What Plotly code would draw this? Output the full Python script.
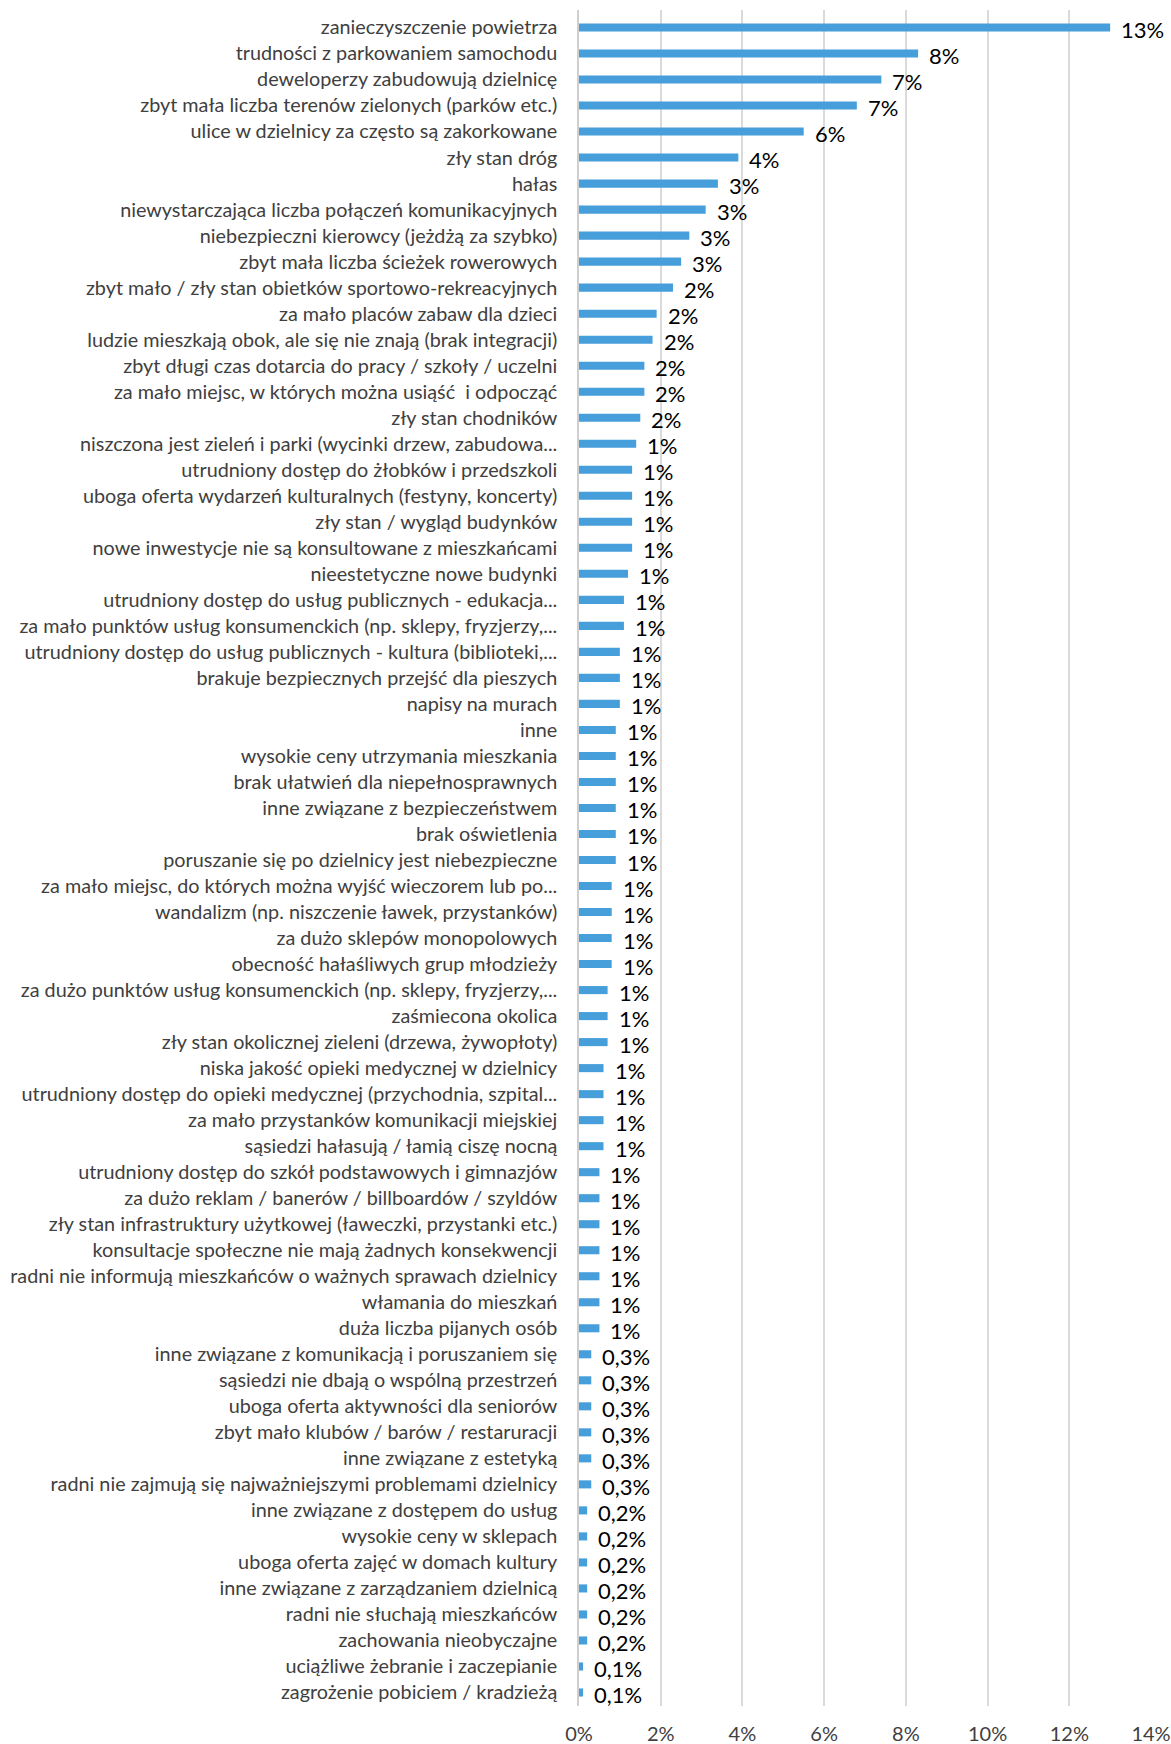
import plotly.graph_objects as go

# Problems reported by residents (share of answers, %)
categories = [
    "zanieczyszczenie powietrza",
    "trudności z parkowaniem samochodu",
    "deweloperzy zabudowują dzielnicę",
    "zbyt mała liczba terenów zielonych (parków etc.)",
    "ulice w dzielnicy za często są zakorkowane",
    "zły stan dróg",
    "hałas",
    "niewystarczająca liczba połączeń komunikacyjnych",
    "niebezpieczni kierowcy (jeżdżą za szybko)",
    "zbyt mała liczba ścieżek rowerowych",
    "zbyt mało / zły stan obietków sportowo-rekreacyjnych",
    "za mało placów zabaw dla dzieci",
    "ludzie mieszkają obok, ale się nie znają (brak integracji)",
    "zbyt długi czas dotarcia do pracy / szkoły / uczelni",
    "za mało miejsc, w których można usiąść  i odpocząć",
    "zły stan chodników",
    "niszczona jest zieleń i parki (wycinki drzew, zabudowa...",
    "utrudniony dostęp do żłobków i przedszkoli",
    "uboga oferta wydarzeń kulturalnych (festyny, koncerty)",
    "zły stan / wygląd budynków",
    "nowe inwestycje nie są konsultowane z mieszkańcami",
    "nieestetyczne nowe budynki",
    "utrudniony dostęp do usług publicznych - edukacja...",
    "za mało punktów usług konsumenckich (np. sklepy, fryzjerzy,...",
    "utrudniony dostęp do usług publicznych - kultura (biblioteki,...",
    "brakuje bezpiecznych przejść dla pieszych",
    "napisy na murach",
    "inne",
    "wysokie ceny utrzymania mieszkania",
    "brak ułatwień dla niepełnosprawnych",
    "inne związane z bezpieczeństwem",
    "brak oświetlenia",
    "poruszanie się po dzielnicy jest niebezpieczne",
    "za mało miejsc, do których można wyjść wieczorem lub po...",
    "wandalizm (np. niszczenie ławek, przystanków)",
    "za dużo sklepów monopolowych",
    "obecność hałaśliwych grup młodzieży",
    "za dużo punktów usług konsumenckich (np. sklepy, fryzjerzy,...",
    "zaśmiecona okolica",
    "zły stan okolicznej zieleni (drzewa, żywopłoty)",
    "niska jakość opieki medycznej w dzielnicy",
    "utrudniony dostęp do opieki medycznej (przychodnia, szpital...",
    "za mało przystanków komunikacji miejskiej",
    "sąsiedzi hałasują / łamią ciszę nocną",
    "utrudniony dostęp do szkół podstawowych i gimnazjów",
    "za dużo reklam / banerów / billboardów / szyldów",
    "zły stan infrastruktury użytkowej (ławeczki, przystanki etc.)",
    "konsultacje społeczne nie mają żadnych konsekwencji",
    "radni nie informują mieszkańców o ważnych sprawach dzielnicy",
    "włamania do mieszkań",
    "duża liczba pijanych osób",
    "inne związane z komunikacją i poruszaniem się",
    "sąsiedzi nie dbają o wspólną przestrzeń",
    "uboga oferta aktywności dla seniorów",
    "zbyt mało klubów / barów / restaruracji",
    "inne związane z estetyką",
    "radni nie zajmują się najważniejszymi problemami dzielnicy",
    "inne związane z dostępem do usług",
    "wysokie ceny w sklepach",
    "uboga oferta zajęć w domach kultury",
    "inne związane z zarządzaniem dzielnicą",
    "radni nie słuchają mieszkańców",
    "zachowania nieobyczajne",
    "uciążliwe żebranie i zaczepianie",
    "zagrożenie pobiciem / kradzieżą",
]

shares = [
    13.0, 8.3, 7.4, 6.8, 5.5, 3.9, 3.4, 3.1, 2.7, 2.5,
    2.3, 1.9, 1.8, 1.6, 1.6, 1.5, 1.4, 1.3, 1.3, 1.3,
    1.3, 1.2, 1.1, 1.1, 1.0, 1.0, 1.0, 0.9, 0.9, 0.9,
    0.9, 0.9, 0.9, 0.8, 0.8, 0.8, 0.8, 0.7, 0.7, 0.7,
    0.6, 0.6, 0.6, 0.6, 0.5, 0.5, 0.5, 0.5, 0.5, 0.5,
    0.5, 0.3, 0.3, 0.3, 0.3, 0.3, 0.3, 0.2, 0.2, 0.2,
    0.2, 0.2, 0.2, 0.1, 0.1,
]

x_ticks = [0, 2, 4, 6, 8, 10, 12, 14]
x_tick_labels = ["0%", "2%", "4%", "6%", "8%", "10%", "12%", "14%"]


def pct_label(v):
    """Whole percent for shares from 0.5 up, one decimal (comma) below."""
    if v >= 0.5:
        return f"{int(v + 0.5 + 1e-9)}%"
    return f"{v:.1f}".replace(".", ",") + "%"


FONT = "Lato"

fig = go.Figure(
    go.Bar(
        x=shares,
        y=categories,
        orientation="h",
        marker=dict(color="#469EDA", line=dict(width=0)),
        hoverinfo="skip",
    )
)

fig.update_layout(
    annotations=[
        dict(
            x=v, y=c, text=pct_label(v),
            xref="x", yref="y",
            xanchor="left", yanchor="middle",
            xshift=9, yshift=-2, showarrow=False,
            font=dict(family=FONT, size=22, color="#000000"),
        )
        for c, v in zip(categories, shares)
    ],
    width=1171,
    height=1744,
    margin=dict(l=579, r=20, t=10, b=38, autoexpand=False),
    paper_bgcolor="white",
    plot_bgcolor="white",
    bargap=0.69,
    showlegend=False,
    xaxis=dict(
        range=[0, 14],
        tickvals=x_ticks,
        ticktext=x_tick_labels,
        showgrid=True,
        gridcolor="#DADADA",
        gridwidth=1.5,
        zeroline=False,
        showline=False,
        ticks="outside",
        ticklen=10,
        tickcolor="rgba(0,0,0,0)",
        tickfont=dict(family=FONT, size=20, color="#404040"),
        fixedrange=True,
    ),
    yaxis=dict(
        categoryorder="array",
        categoryarray=categories,
        autorange="reversed",
        showgrid=False,
        zeroline=False,
        showline=True,
        linecolor="#CFCFCF",
        linewidth=1.5,
        ticks="outside",
        ticklen=16,
        tickcolor="rgba(0,0,0,0)",
        tickfont=dict(family=FONT, size=19.8, color="#404040"),
        automargin=False,
        fixedrange=True,
    ),
)

fig.write_html("out.html")
